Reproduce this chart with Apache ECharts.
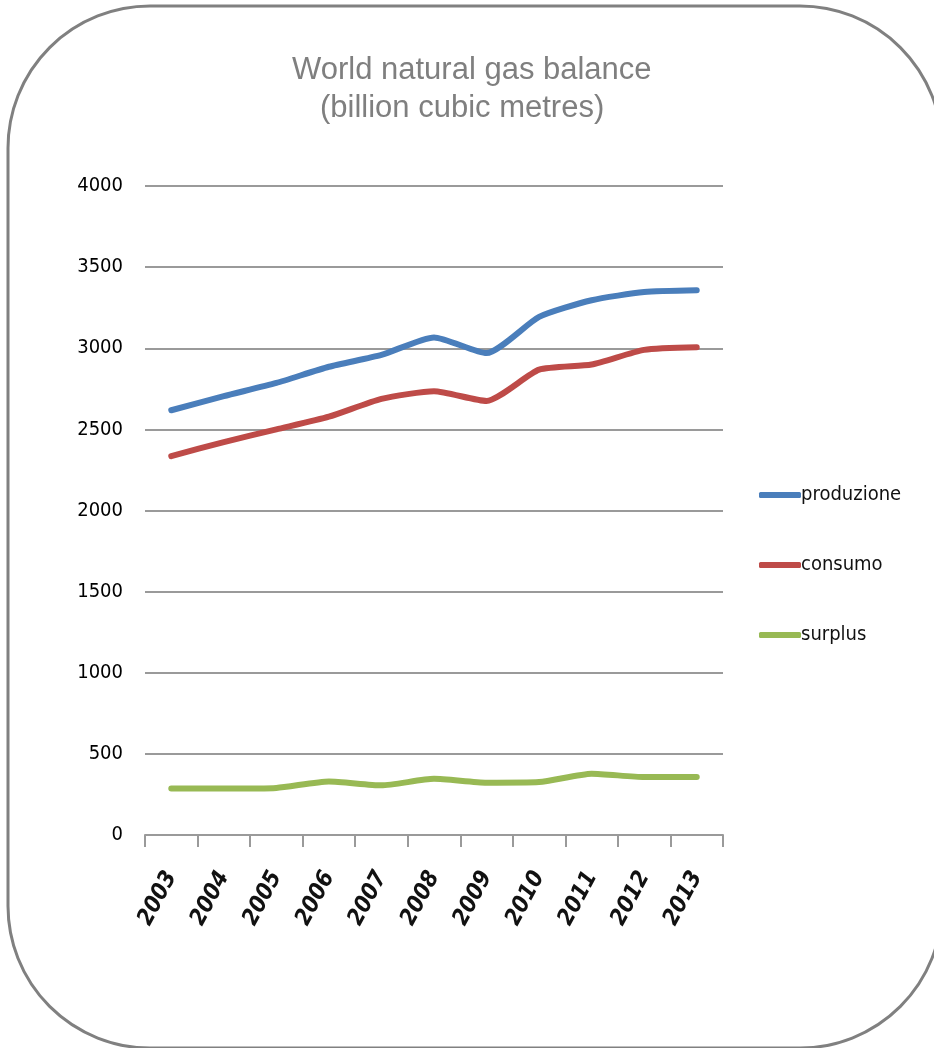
<!DOCTYPE html>
<html>
<head>
<meta charset="utf-8">
<title>World natural gas balance</title>
<script src="https://cdn.jsdelivr.net/npm/echarts@6/dist/echarts.min.js"></script>
<style>
  html, body { margin: 0; padding: 0; background: #ffffff; }
  #chart { width: 934px; height: 1048px; }
</style>
</head>
<body>
<div id="chart"></div>
<script>
// Years on the category axis
var years = ['2003', '2004', '2005', '2006', '2007', '2008', '2009', '2010', '2011', '2012', '2013'];

// Billion cubic metres
var produzione = [2618, 2705, 2786, 2886, 2959, 3067, 2970, 3193, 3296, 3346, 3357];
var consumo    = [2335, 2422, 2500, 2578, 2688, 2735, 2675, 2868, 2900, 2990, 3006];
var surplus    = [286, 286, 290, 330, 306, 346, 322, 326, 378, 357, 357];

// Value axis ticks
var yTicks = [0, 500, 1000, 1500, 2000, 2500, 3000, 3500, 4000];

var seriesNames = ['produzione', 'consumo', 'surplus'];
var seriesColors = ['#4a7ebb', '#be4b48', '#98b954'];
var seriesData = [produzione, consumo, surplus];

var narrow = '"Liberation Sans Narrow", "DejaVu Sans Condensed", sans-serif';
var titleFont = '31px "Liberation Sans", Arial, sans-serif';

var chart = echarts.init(document.getElementById('chart'), null, { renderer: 'canvas' });

chart.setOption({
  backgroundColor: '#ffffff',
  animation: false,
  graphic: [
    {
      type: 'rect',
      shape: { x: 8, y: 6, width: 934, height: 1042, r: 142 },
      style: { fill: 'none', stroke: '#808080', lineWidth: 3 },
      z: -1
    },
    {
      type: 'text',
      left: 292,
      top: 55,
      style: { text: 'World natural gas balance', fill: '#7f7f7f', font: titleFont }
    },
    {
      type: 'text',
      left: 320,
      top: 93,
      style: { text: '(billion cubic metres)', fill: '#7f7f7f', font: titleFont }
    }
  ],
  legend: {
    orient: 'vertical',
    left: 754,
    top: 478,
    itemWidth: 42,
    itemHeight: 6,
    itemGap: 46,
    icon: 'roundRect',
    data: seriesNames,
    textStyle: {
      fontFamily: narrow,
      fontSize: 20,
      lineHeight: 24,
      color: '#111111',
      padding: [0, 0, 0, -5]
    }
  },
  grid: {
    left: 145,
    right: 211,
    top: 186,
    bottom: 213,
    containLabel: false
  },
  xAxis: {
    type: 'category',
    data: years,
    boundaryGap: true,
    axisLine: { show: true, lineStyle: { color: '#9a9a9a', width: 2 } },
    axisTick: { show: true, length: 12, alignWithLabel: false, lineStyle: { color: '#9a9a9a', width: 2 } },
    axisLabel: {
      rotate: 62,
      margin: 38,
      color: '#111111',
      fontFamily: narrow,
      fontWeight: 'bold',
      fontStyle: 'italic',
      fontSize: 23
    },
    splitLine: { show: false }
  },
  yAxis: {
    type: 'value',
    min: yTicks[0],
    max: yTicks[yTicks.length - 1],
    interval: 500,
    axisLine: { show: false },
    axisTick: { show: false },
    axisLabel: {
      margin: 22,
      color: '#000000',
      fontFamily: narrow,
      fontSize: 20,
      formatter: function (v) { return String(v); }
    },
    splitLine: { show: true, lineStyle: { color: '#9a9a9a', width: 2 } }
  },
  series: seriesNames.map(function (name, i) {
    return {
      name: name,
      type: 'line',
      data: seriesData[i],
      smooth: 0.2,
      symbol: 'none',
      lineStyle: { color: seriesColors[i], width: 6, cap: 'round', join: 'round' },
      itemStyle: { color: seriesColors[i] }
    };
  })
});
</script>
</body>
</html>
